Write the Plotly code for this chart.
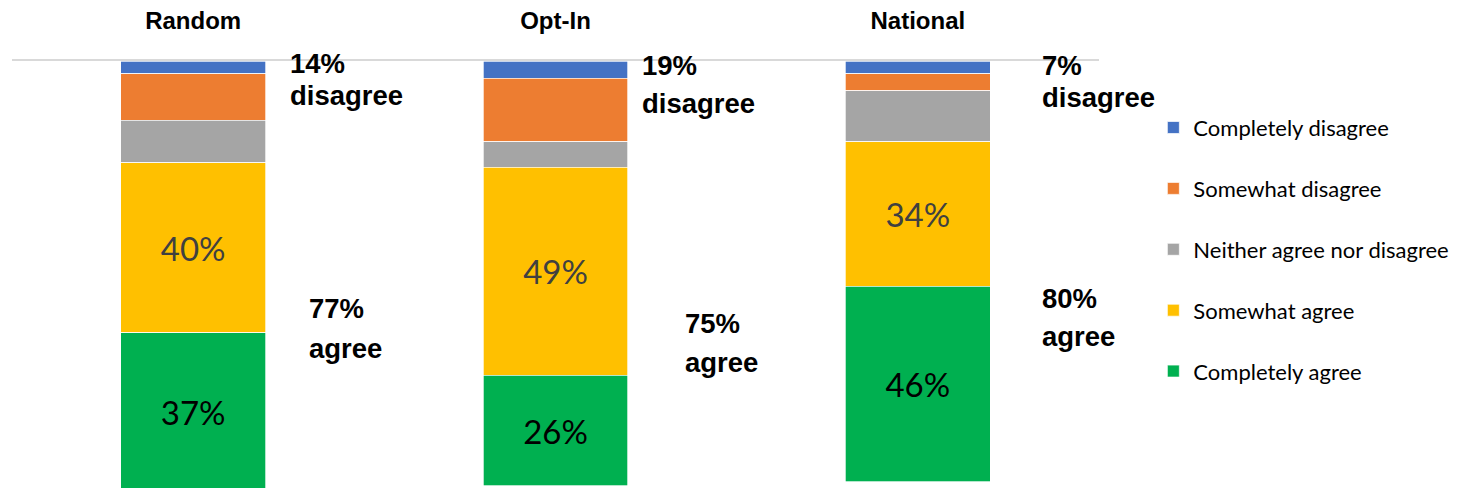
import plotly.graph_objects as go

categories = ["Random", "Opt-In", "National"]
series_names = ["Completely disagree", "Somewhat disagree", "Neither agree nor disagree",
                "Somewhat agree", "Completely agree"]
completely_disagree = [3, 4, 3]
somewhat_disagree = [11, 15, 4]
neither = [10, 6, 12]
somewhat_agree = [40, 49, 34]
completely_agree = [37, 26, 46]

colors = ["#4472C4", "#ED7D31", "#A5A5A5", "#FFC000", "#00B050"]
series = [completely_disagree, somewhat_disagree, neither, somewhat_agree, completely_agree]
label_colors = [None, None, None, "#404040", "#000000"]

fig = go.Figure()
for i, (name, vals) in enumerate(zip(series_names, series)):
    kw = {}
    if label_colors[i]:
        kw = dict(text=[f"{v}%" for v in vals], textposition="inside",
                  insidetextanchor="middle", textangle=0,
                  textfont=dict(family="Lato", size=33, color=label_colors[i]))
    fig.add_trace(go.Bar(x=categories, y=vals, name=name, marker_color=colors[i],
                         marker_line=dict(color="white", width=0.7),
                         legendgroup=name, hoverinfo="skip", **kw))

disagree_tot = [a + b for a, b in zip(completely_disagree, somewhat_disagree)]
agree_tot = [a + b for a, b in zip(somewhat_agree, completely_agree)]

# text placement (label positions beside bars)
dis_pos = [(95, 0.64, 8.2), (84, 1.1, 9.9), (122, 1.1, 8.6)]
agr_pos = [(114, 58.3, 67.6), (127, 61.8, 71.0), (122, 56.0, 64.9)]

annfont = dict(family="Liberation Sans, Arial", size=27.5, color="#000000", weight="bold")
for c, tot, (xs, y1, y2) in zip(categories, disagree_tot, dis_pos):
    fig.add_annotation(x=c, y=y1, xref="x", yref="y", text=f"{tot}%", showarrow=False,
                       xanchor="left", yanchor="middle", xshift=xs, font=annfont)
    fig.add_annotation(x=c, y=y2, xref="x", yref="y", text="disagree", showarrow=False,
                       xanchor="left", yanchor="middle", xshift=xs, font=annfont)
for c, tot, (xs, y1, y2) in zip(categories, agree_tot, agr_pos):
    fig.add_annotation(x=c, y=y1, xref="x", yref="y", text=f"{tot}%", showarrow=False,
                       xanchor="left", yanchor="middle", xshift=xs, font=annfont)
    fig.add_annotation(x=c, y=y2, xref="x", yref="y", text="agree", showarrow=False,
                       xanchor="left", yanchor="middle", xshift=xs, font=annfont)

fig.update_layout(
    width=1463, height=488,
    margin=dict(l=12, r=364, t=61, b=0, autoexpand=False),
    barmode="stack", bargap=0.6,
    plot_bgcolor="white", paper_bgcolor="white",
    xaxis=dict(side="top", showline=True, linecolor="#D9D9D9", linewidth=2,
               range=[-0.5, 2.5], autorange=False,
               ticks="outside", ticklen=20, tickcolor="rgba(0,0,0,0)",
               tickfont=dict(family="Liberation Sans, Arial", size=24, color="#000000",
                             weight="bold"),
               showgrid=False, zeroline=False, fixedrange=True),
    yaxis=dict(range=[100.5, 0], showticklabels=False, showgrid=False, zeroline=False,
               showline=False, fixedrange=True),
    legend=dict(x=1.05, y=0.893, xanchor="left", yanchor="top",
                traceorder="grouped", tracegroupgap=29.3,
                font=dict(family="Lato", size=22, color="#000000"),
                bgcolor="rgba(0,0,0,0)"),
    showlegend=True,
)

fig.write_html("out.html", config={"displayModeBar": False})
